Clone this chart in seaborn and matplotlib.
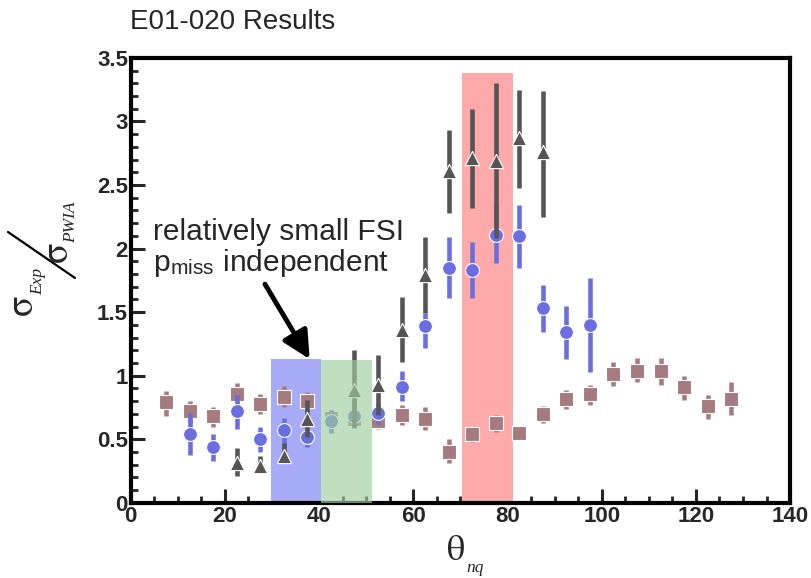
import numpy as np
import matplotlib
matplotlib.use('Agg')
import matplotlib.pyplot as plt
import seaborn as sns
from matplotlib.ticker import MultipleLocator
from matplotlib.lines import Line2D

# brown squares
sq_x = [7.5, 12.5, 17.5, 22.5, 27.5, 32.5, 37.5, 42.5, 47.5, 52.5, 57.5, 62.5, 67.5,
        72.5, 77.5, 82.5, 87.5, 92.5, 97.5, 102.5, 107.5, 112.5, 117.5, 122.5, 127.5]
sq_y = [0.79, 0.72, 0.68, 0.86, 0.78, 0.83, 0.80, 0.67, 0.66, 0.64, 0.69, 0.66, 0.40,
        0.54, 0.63, 0.55, 0.70, 0.82, 0.86, 1.01, 1.04, 1.04, 0.91, 0.76, 0.82]
sq_hi = [0.88, 0.80, 0.75, 0.94, 0.86, 0.92, 0.87, 0.73, 0.72, 0.72, 0.77, 0.75, 0.50,
         0.60, 0.69, 0.60, 0.76, 0.89, 0.93, 1.11, 1.14, 1.14, 1.00, 0.85, 0.95]
sq_lo = [0.68, 0.63, 0.60, 0.77, 0.70, 0.75, 0.75, 0.61, 0.60, 0.58, 0.61, 0.57, 0.31,
         0.48, 0.56, 0.53, 0.63, 0.74, 0.77, 0.92, 0.95, 0.93, 0.81, 0.66, 0.69]

# blue circles
c_x = [12.5, 17.5, 22.5, 27.5, 32.5, 37.5, 42.5, 47.5, 52.5, 57.5, 62.5, 67.5,
       72.5, 77.5, 82.5, 87.5, 92.5, 97.5]
c_y = [0.54, 0.44, 0.72, 0.50, 0.57, 0.52, 0.64, 0.68, 0.71, 0.91, 1.39, 1.85,
       1.83, 2.11, 2.10, 1.53, 1.34, 1.40]
c_hi = [0.71, 0.54, 0.85, 0.60, 0.67, 0.59, 0.73, 0.81, 0.78, 1.04, 1.49, 2.09,
        2.05, 2.35, 2.34, 1.71, 1.55, 1.77]
c_lo = [0.38, 0.33, 0.58, 0.40, 0.44, 0.44, 0.55, 0.59, 0.62, 0.80, 1.22, 1.61,
        1.61, 1.89, 1.85, 1.34, 1.13, 1.03]

# dark triangles
t_x = [22.5, 27.5, 32.5, 37.5, 47.5, 52.5, 57.5, 62.5, 67.5, 72.5, 77.5, 82.5, 87.5]
t_y = [0.31, 0.29, 0.37, 0.66, 0.89, 0.93, 1.36, 1.79, 2.61, 2.71, 2.69, 2.87, 2.76]
t_hi = [0.43, 0.37, 0.47, 0.81, 1.20, 1.16, 1.62, 2.09, 2.93, 3.10, 3.30, 3.25, 3.24]
t_lo = [0.21, 0.25, 0.32, 0.52, 0.60, 0.69, 1.11, 1.49, 2.28, 2.32, 2.08, 2.48, 2.25]

sns.set_style('ticks')
plt.rcParams['font.family'] = ['Liberation Sans', 'DejaVu Sans']
plt.rcParams['mathtext.fontset'] = 'stix'

W, H = 812, 578
fig = plt.figure(figsize=(W / 100, H / 100), dpi=100)
ax = fig.add_axes([0.161, 0.130, 0.812, 0.770])

# shaded bands (blue and red under the points, green over them)
ax.fill_between([29.7, 40.5], 0, 1.13, color='#a8acf8', lw=0, zorder=1)
ax.fill_between([70.4, 81.2], 0, 3.38, color='#ffaaaa', lw=0, zorder=1)
ax.fill_between([40.5, 51.3], 0, 1.12, color='#9fcf9f', alpha=0.65, lw=0, zorder=20)


def series(x, y, lo, hi, col, mk, size, z):
    x = np.array(x); y = np.array(y)
    ax.errorbar(x, y, yerr=[y - np.array(lo), np.array(hi) - y], fmt='none',
                ecolor=col, elinewidth=3.3, capsize=0, zorder=z)
    sns.scatterplot(x=x, y=y, marker=mk, s=size, color=col, edgecolor='white',
                    linewidth=0.8, ax=ax, zorder=z + 1)


series(sq_x, sq_y, sq_lo, sq_hi, '#a67b7f', 's', 110, 3)
series(c_x, c_y, c_lo, c_hi, '#6b6ee0', 'o', 100, 6)
series(t_x, t_y, t_lo, t_hi, '#555555', '^', 105, 9)

ax.set_xlim(0, 140)
ax.set_ylim(0, 3.5)
ax.xaxis.set_minor_locator(MultipleLocator(5))
ax.yaxis.set_minor_locator(MultipleLocator(0.1))
ax.set_yticks(np.arange(0, 3.51, 0.5), ['0', '0.5', '1', '1.5', '2', '2.5', '3', '3.5'],
              fontweight='bold')
ax.set_xticks(np.arange(0, 141, 20), [str(v) for v in range(0, 141, 20)], fontweight='bold')
ax.tick_params(which='major', direction='in', length=10, width=2.2,
               labelsize=16, pad=2)
ax.tick_params(which='minor', direction='in', length=5, width=2)
for s in ax.spines.values():
    s.set_linewidth(3)
    s.set_color('black')

# axis titles, built ROOT-style from pieces (pixel positions -> figure fraction)
def ft(px, py, s, **kw):
    fig.text(px / W, 1 - py / H, s, **kw)

serif_it = dict(family='Liberation Serif', style='italic', fontsize=12.5)
# y: sigma_Exp / sigma_PWIA
ft(23, 306, r'$\mathrm{\sigma}$', fontsize=27, rotation=90, ha='center', va='center')
ft(38, 281, 'Exp', rotation=90, ha='center', va='center', **serif_it)
ft(58, 253, r'$\mathrm{\sigma}$', fontsize=27, rotation=90, ha='center', va='center')
ft(71, 222, 'PWIA', rotation=90, ha='center', va='center', **serif_it)
fig.add_artist(Line2D([8 / W, 75 / W], [1 - 232 / H, 1 - 278 / H],
                      color='black', lw=1.6, transform=fig.transFigure))
# x: theta_nq
ft(455, 551, r'$\mathrm{\theta}$', fontsize=26, ha='center', va='center')
ft(466, 560, 'nq', ha='left', va='top', **serif_it)

fig.text(0.160, 0.962, 'E01-020 Results', fontsize=20, va='center', ha='left')

ax.text(4.7, 2.24, 'relatively small FSI\np$_\\mathregular{miss}$ independent',
        fontsize=21.5, va='top', ha='left', linespacing=1.05, zorder=30)
ax.annotate('', xy=(38.0, 1.13), xytext=(28.5, 1.72),
            arrowprops=dict(arrowstyle='-|>', lw=3.5, mutation_scale=42, color='black',
                            shrinkA=0, shrinkB=0), zorder=30)

fig.savefig('out.png', dpi=100)
